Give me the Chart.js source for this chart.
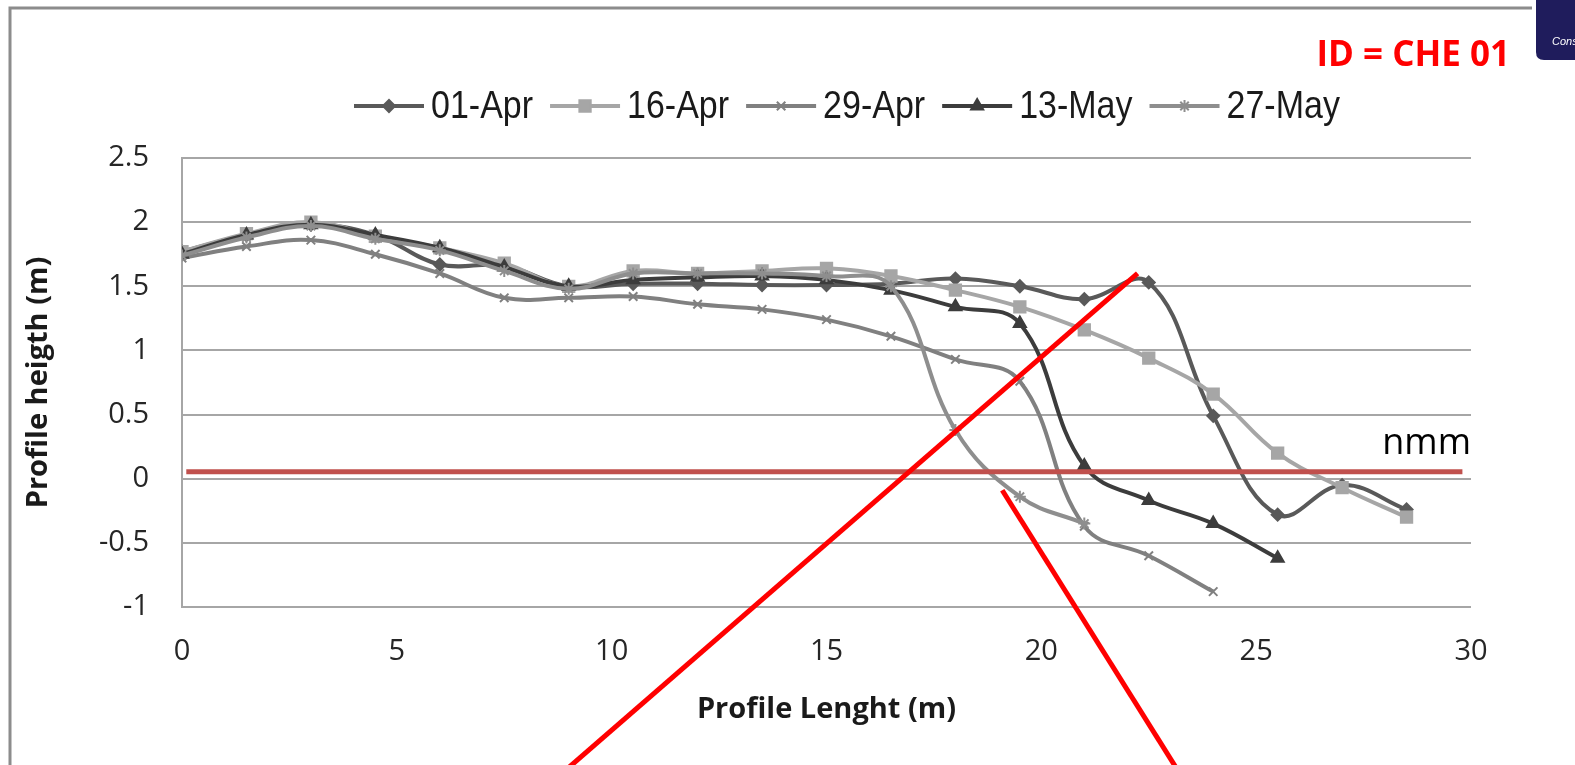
<!DOCTYPE html>
<html>
<head>
<meta charset="utf-8">
<script src="https://cdn.jsdelivr.net/npm/chart.js@4.4.1/dist/chart.umd.min.js"></script>
<style>
    html, body { margin: 0; padding: 0; background: #ffffff; }
</style>
</head>
<body>
<canvas id="profileChart" width="1575" height="765"></canvas>
<script>
// 測點距離 (m)
const distances = [0, 1.5, 3, 4.5, 6, 7.5, 9, 10.5, 12, 13.5, 15, 16.5, 18, 19.5, 21, 22.5, 24, 25.5, 27, 28.5];
const seriesNames = ['01-Apr', '16-Apr', '29-Apr', '13-May', '27-May'];

// 各日期的剖面高度 (m)
const apr01 = [1.77, 1.90, 1.98, 1.90, 1.67, 1.66, 1.50, 1.52, 1.52, 1.51, 1.51, 1.52, 1.56, 1.50, 1.40, 1.53, 0.49, -0.28, -0.05, -0.24];
const apr16 = [1.77, 1.91, 2.00, 1.89, 1.80, 1.68, 1.50, 1.62, 1.60, 1.62, 1.64, 1.58, 1.47, 1.34, 1.16, 0.94, 0.66, 0.20, -0.07, -0.30];
const apr29 = [1.72, 1.81, 1.86, 1.75, 1.60, 1.41, 1.41, 1.42, 1.36, 1.32, 1.24, 1.11, 0.93, 0.76, -0.37, -0.60, -0.88];
const may13 = [1.75, 1.90, 1.98, 1.90, 1.80, 1.65, 1.50, 1.55, 1.57, 1.58, 1.55, 1.47, 1.34, 1.21, 0.10, -0.17, -0.35, -0.62];
const may27 = [1.74, 1.88, 1.97, 1.87, 1.78, 1.62, 1.48, 1.60, 1.60, 1.60, 1.58, 1.50, 0.38, -0.14, -0.35];

// 註記：平均海平面 (nmm) 與兩條紅色標示線（資料座標）
const nmmLevel = 0.055;
const nmmRange = [0.1, 29.8];
const redStrokes = [
    [22.24, 1.60, 8.97, -2.26],
    [19.09, -0.09, 23.15, -2.26]
];

const seriesStyles = [
    { color: '#595959', point: 'rectRot', radius: 6 },
    { color: '#A6A6A6', point: 'rect', radius: 8 },
    { color: '#808080', point: 'crossRot', radius: 6 },
    { color: '#3C3C3C', point: 'triangle', radius: 7 },
    { color: '#8E8E8E', point: 'star', radius: 6 }
];
const seriesValues = [apr01, apr16, apr29, may13, may27];

function toPoints(values) {
    return values.map(function (v, i) { return { x: distances[i], y: v }; });
}

const datasets = seriesNames.map(function (name, i) {
    const st = seriesStyles[i];
    return {
        label: name,
        data: toPoints(seriesValues[i]),
        borderColor: st.color,
        backgroundColor: st.color,
        borderWidth: 4,
        tension: 0.4,
        pointStyle: st.point,
        pointRadius: st.radius,
        pointBorderWidth: 2,
        pointBackgroundColor: st.color,
        pointBorderColor: st.color,
        order: seriesNames.length - i
    };
});

// 頁框、標題、圖例與註記
const decorPlugin = {
    id: 'decor',
    beforeDraw: function (chart) {
        const ctx = chart.ctx;
        ctx.save();
        ctx.fillStyle = '#ffffff';
        ctx.fillRect(0, 0, chart.width, chart.height);
        // 外框
        ctx.strokeStyle = '#8C8C8C';
        ctx.lineWidth = 3;
        ctx.beginPath();
        ctx.moveTo(10, 765);
        ctx.lineTo(10, 8);
        ctx.lineTo(1532, 8);
        ctx.stroke();
        // 右上角深藍色塊
        ctx.fillStyle = '#1F1C5C';
        ctx.beginPath();
        ctx.moveTo(1536, 0);
        ctx.lineTo(1575, 0);
        ctx.lineTo(1575, 60);
        ctx.lineTo(1544, 60);
        ctx.quadraticCurveTo(1536, 60, 1536, 52);
        ctx.closePath();
        ctx.fill();
        ctx.fillStyle = '#ffffff';
        ctx.font = 'italic 11px "Liberation Sans"';
        ctx.textBaseline = 'middle';
        ctx.fillText('Conse', 1552, 42);
        ctx.restore();
    },
    afterDraw: function (chart) {
        const ctx = chart.ctx;
        const xs = chart.scales.x;
        const ys = chart.scales.y;
        ctx.save();

        // ID 標題
        ctx.fillStyle = '#FF0000';
        ctx.font = 'bold 35px "Open Sans"';
        ctx.textAlign = 'right';
        ctx.textBaseline = 'middle';
        ctx.fillText('ID = CHE 01', 1510, 56);

        // 圖例
        let lx = 354;
        const ly = 106;
        chart.data.datasets.forEach(function (ds) {
            ctx.strokeStyle = ds.borderColor;
            ctx.fillStyle = ds.borderColor;
            ctx.lineWidth = 4;
            ctx.beginPath();
            ctx.moveTo(lx, ly);
            ctx.lineTo(lx + 70, ly);
            ctx.stroke();
            ctx.lineWidth = 2;
            Chart.helpers.drawPoint(ctx, { pointStyle: ds.pointStyle, radius: ds.pointRadius, rotation: 0, borderWidth: 2 }, lx + 35, ly);
            ctx.font = '34px "Liberation Sans"';
            ctx.fillStyle = '#1A1A1A';
            ctx.textAlign = 'left';
            const w = ctx.measureText(ds.label).width;
            ctx.save();
            ctx.translate(lx + 77, ly);
            ctx.scale(1, 1.12);
            ctx.fillText(ds.label, 0, 1);
            ctx.restore();
            lx += 77 + w + 17;
        });

        // nmm 水平線
        ctx.strokeStyle = '#C0504D';
        ctx.lineWidth = 5;
        ctx.beginPath();
        ctx.moveTo(xs.getPixelForValue(nmmRange[0]), ys.getPixelForValue(nmmLevel));
        ctx.lineTo(xs.getPixelForValue(nmmRange[1]), ys.getPixelForValue(nmmLevel));
        ctx.stroke();
        ctx.fillStyle = '#000000';
        ctx.font = '36px "Open Sans"';
        ctx.textAlign = 'right';
        ctx.textBaseline = 'alphabetic';
        ctx.fillText('nmm', xs.getPixelForValue(30), ys.getPixelForValue(0.19));

        // 紅色標示線
        ctx.strokeStyle = '#FF0000';
        ctx.lineWidth = 5;
        ctx.lineCap = 'butt';
        redStrokes.forEach(function (s) {
            ctx.beginPath();
            ctx.moveTo(xs.getPixelForValue(s[0]), ys.getPixelForValue(s[1]));
            ctx.lineTo(xs.getPixelForValue(s[2]), ys.getPixelForValue(s[3]));
            ctx.stroke();
        });
        ctx.restore();
    }
};

const tickFont = { family: "'Open Sans', sans-serif", size: 29 };
const titleFont = { family: "'Open Sans', sans-serif", size: 29, weight: 'bold' };

new Chart(document.getElementById('profileChart'), {
    type: 'line',
    data: { datasets: datasets },
    options: {
        responsive: false,
        animation: false,
        layout: { padding: { top: 158, left: 12, right: 104, bottom: 20 } },
        plugins: {
            legend: { display: false },
            tooltip: { enabled: false }
        },
        scales: {
            x: {
                type: 'linear',
                min: 0,
                max: 30,
                ticks: { stepSize: 5, padding: 27, color: '#262626', font: tickFont },
                grid: { display: false, drawTicks: false },
                border: { display: false },
                title: { display: true, text: 'Profile Lenght (m)', color: '#1A1A1A', font: titleFont, padding: { top: 0, bottom: 18 } },
                afterFit: function (scale) { scale.height = 138; }
            },
            y: {
                min: -1,
                max: 2.5,
                ticks: {
                    stepSize: 0.5,
                    padding: 33,
                    color: '#262626',
                    font: tickFont,
                    callback: function (value) { return String(value); }
                },
                grid: { color: '#A6A6A6', lineWidth: 2, drawTicks: false },
                border: { display: true, color: '#A6A6A6', width: 2 },
                title: { display: true, text: 'Profile heigth (m)', color: '#1A1A1A', font: titleFont, padding: { top: 9, bottom: 0 } },
                afterFit: function (scale) { scale.width = 170; }
            }
        }
    },
    plugins: [decorPlugin]
});
</script>
</body>
</html>
